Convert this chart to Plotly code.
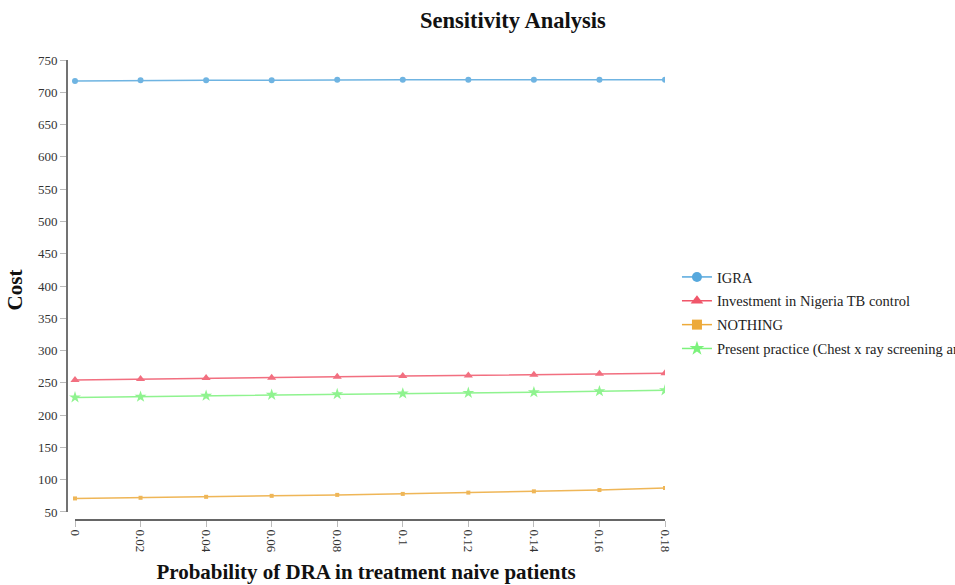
import plotly.graph_objects as go

# Probability of drug-resistance (DRA) in treatment-naive patients
prob_dra = [0, 0.02, 0.04, 0.06, 0.08, 0.1, 0.12, 0.14, 0.16, 0.18]

# Cost per strategy
cost_igra = [717.5, 718.5, 718.5, 718.5, 719.5, 719.5, 719.5, 719.5, 719.5, 719.5]
cost_investment = [254.5, 256, 257.5, 258, 259.5, 260.5, 261.5, 262.5, 264, 265]
cost_nothing = [71, 72, 73.5, 75, 76.5, 78, 80, 82, 84, 87]
cost_present = [227.5, 228.5, 230, 231.5, 232.5, 233.5, 234.5, 235.5, 237, 238.5]

# name, values, colour, symbol, marker size on the plot, marker size in the legend
series = [
    ("IGRA", cost_igra, "#56A8DD", "circle", 6, 10),
    ("Investment in Nigeria TB control", cost_investment, "#F0566A", "triangle-up", 8, 11),
    ("NOTHING", cost_nothing, "#EDAA3A", "square", 4, 10),
    ("Present practice (Chest x ray screening and sputum smear microscopy)",
     cost_present, "#7CF27C", "star", 9, 11),
]

y_ticks = list(range(50, 751, 50))
x_min, x_max = prob_dra[0], prob_dra[-1]
y_lo, y_hi = 50, 750

serif = "Liberation Serif, Times New Roman, serif"

fig = go.Figure()
for i, (name, vals, color, symbol, size, leg_size) in enumerate(series):
    fig.add_trace(go.Scatter(
        x=prob_dra, y=vals, name=name, mode="lines+markers",
        legendgroup=f"g{i}", showlegend=False,
        line=dict(color=color, width=1.5),
        marker=dict(color=color, symbol=symbol, size=size, line=dict(width=0)),
        opacity=0.85,
    ))
    # legend entry with a larger symbol and a thin line
    fig.add_trace(go.Scatter(
        x=[None], y=[None], name=name, mode="lines+markers",
        legendgroup=f"g{i}", showlegend=True,
        line=dict(color=color, width=1.5),
        marker=dict(color=color, symbol=symbol, size=leg_size, line=dict(width=0)),
    ))

# Axis lines drawn separately so they stop at the data extents
fig.add_shape(type="line", xref="x", yref="paper", x0=x_min, x1=x_max, y0=0, y1=0,
              line=dict(color="#666", width=2))
fig.add_shape(type="line", xref="paper", yref="y", x0=0, x1=0, y0=y_lo, y1=y_hi,
              line=dict(color="#444", width=1.5))

fig.update_layout(
    width=955, height=585,
    margin=dict(l=67, r=290, t=60, b=65, autoexpand=False),
    paper_bgcolor="white", plot_bgcolor="white",
    font=dict(family=serif, color="#333", size=13),
    title=dict(text="<b>Sensitivity Analysis</b>", x=0.537, xref="container",
               xanchor="center", y=0.965, yref="container", yanchor="middle",
               font=dict(family=serif, size=22.5, color="#111")),
    legend=dict(x=1.02, xanchor="left", y=0.45, yanchor="middle",
                font=dict(family=serif, size=14.5, color="#222"),
                bgcolor="rgba(0,0,0,0)", tracegroupgap=2),
    showlegend=True,
)

fig.update_xaxes(
    range=[-0.00244, 0.18], tickvals=prob_dra, ticktext=[str(v) for v in prob_dra],
    tickangle=90, ticks="outside", ticklen=6, tickcolor="#bbb",
    showgrid=False, zeroline=False, showline=False,
    tickfont=dict(family=serif, size=13, color="#333"),
    title=dict(text="<b>Probability of DRA in treatment naive patients</b>",
               font=dict(family=serif, size=21, color="#111"), standoff=12),
)
fig.update_yaxes(
    range=[37.6, 750], tickvals=y_ticks, ticks="outside", ticklen=6, tickcolor="#bbb",
    showgrid=False, zeroline=False, showline=False,
    tickfont=dict(family=serif, size=13, color="#333"),
    title=dict(text="<b>Cost</b>", font=dict(family=serif, size=21, color="#111"),
               standoff=9),
)

fig.write_html("out.html")
